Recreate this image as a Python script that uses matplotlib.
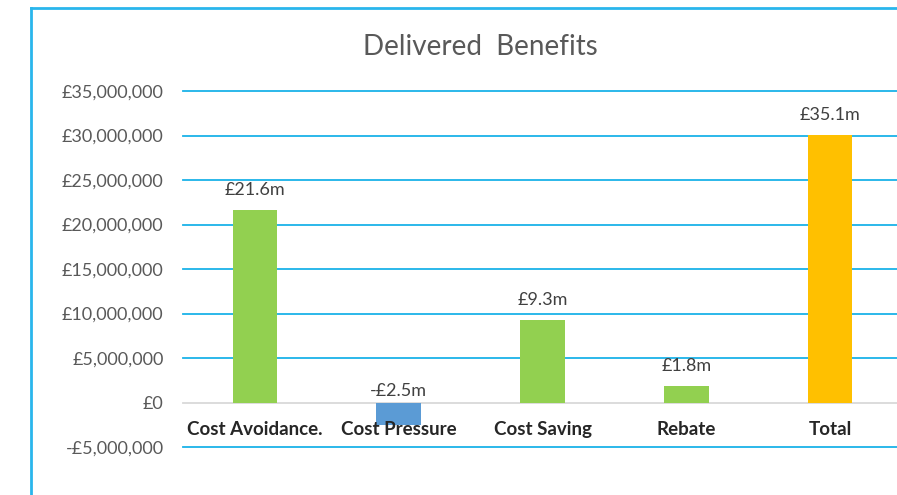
import matplotlib
matplotlib.use("Agg")
import matplotlib.pyplot as plt
from matplotlib.lines import Line2D
from matplotlib.ticker import FuncFormatter

categories = ["Cost Avoidance.", "Cost Pressure", "Cost Saving", "Rebate", "Total"]
values = [21.6e6, -2.5e6, 9.3e6, 1.8e6, 30.1e6]
value_labels = ["£21.6m", "-£2.5m", "£9.3m", "£1.8m", "£35.1m"]
bar_colors = ["#92d050", "#5b9bd5", "#92d050", "#92d050", "#ffc000"]
y_ticks = [-5e6, 0, 5e6, 10e6, 15e6, 20e6, 25e6, 30e6, 35e6]
title = "Delivered  Benefits"

W, H = 897, 495
fig = plt.figure(figsize=(W / 100, H / 100), dpi=100)
plt.rcParams['font.family'] = ['Lato', 'DejaVu Sans']

def fx(px):
    return px / W

def fy(py):
    return 1 - py / H

ax = fig.add_axes([fx(183), fy(447), fx(902) - fx(183), fy(91) - fy(447)])
ax.set_xlim(-0.5, len(categories) - 0.5)
ax.set_ylim(-5e6, 35e6)

x = list(range(len(categories)))
ax.bar(x, values, width=0.31, color=bar_colors, zorder=3)

grid_col = "#1ab2e8"
for t in y_ticks:
    if t == 0:
        ax.axhline(t, color="#d9d9d9", lw=1.3, zorder=2, clip_on=False)
    else:
        ax.axhline(t, color=grid_col, lw=1.3, zorder=1, clip_on=False)

ax.set_yticks(y_ticks)
def fmt(v, pos):
    s = "£{:,.0f}".format(abs(v))
    return "-" + s if v < 0 else s
ax.yaxis.set_major_formatter(FuncFormatter(fmt))
ax.tick_params(axis="y", length=0, pad=14, labelsize=13, labelcolor="#595959")
ax.set_xticks([])
for s in ax.spines.values():
    s.set_visible(False)

for xi, v, lab in zip(x, values, value_labels):
    top = max(v, 0)
    off = 12 if v > 0 else 3
    ax.annotate(lab, (xi, top), xytext=(0, off), textcoords="offset pixels",
                ha="center", va="bottom", fontsize=13, color="#404040", zorder=4)

for xi, c in zip(x, categories):
    ax.annotate(c, (xi, 0), xytext=(0, -27), textcoords="offset pixels",
                ha="center", va="center", fontsize=13.5, fontweight="bold",
                color="#262626", zorder=4)

fig.text(fx(480), fy(47), title, ha="center", va="center", fontsize=20, color="#595959")

frame_col = "#29b6ec"
fig.add_artist(Line2D([fx(31), fx(31)], [fy(8), fy(495)], color=frame_col, lw=2.0))
fig.add_artist(Line2D([fx(31), fx(897)], [fy(8), fy(8)], color=frame_col, lw=2.0))

fig.savefig("out.png", dpi=100)
